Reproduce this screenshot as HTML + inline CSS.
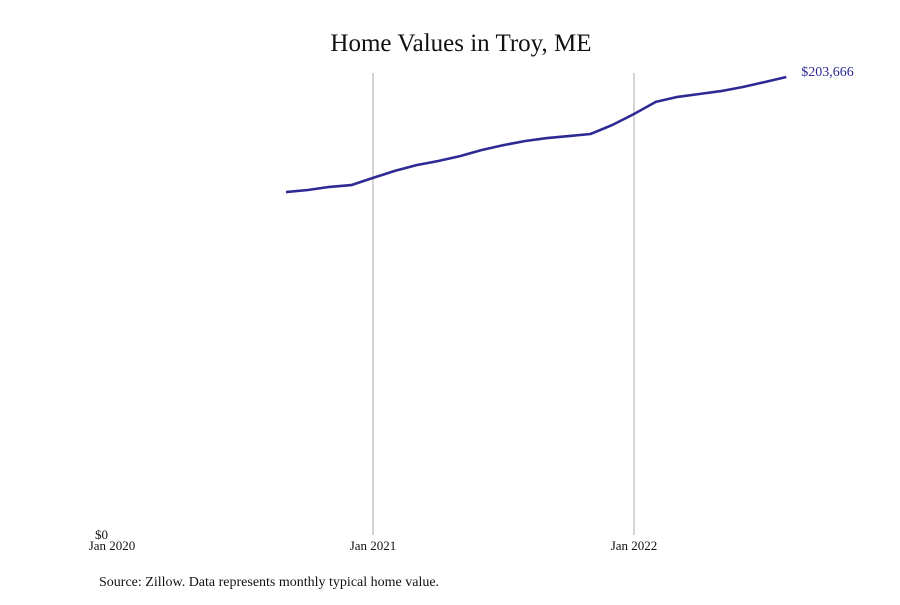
<!DOCTYPE html>
<html><head><meta charset="utf-8"><style>
body{margin:0;background:#fff;width:900px;height:600px;overflow:hidden;font-family:"Liberation Serif",serif}
</style></head><body>
<svg width="900" height="600" xmlns="http://www.w3.org/2000/svg">
<text x="461" y="51" text-anchor="middle" font-size="25" fill="#111">Home Values in Troy, ME</text>
<g id="grid"></g>
<g id="axis"></g>
<path id="line" fill="none" stroke="#2e2a94" stroke-width="2.6" stroke-linejoin="round"/>
<text id="endlabel" font-size="14" fill="#2e2a94"></text>
<text x="99" y="586" font-size="14" fill="#111">Source: Zillow. Data represents monthly typical home value.</text>
</svg>
<script>
const startMonth = 8; // months after Jan 2020 (Sep 2020)
const values = [152500,153400,154800,155600,158800,161900,164500,166300,168500,171200,173400,175200,176500,177400,178300,182300,187200,192600,194800,196100,197400,199200,201400,203666];
const xTickLabels = ["Jan 2020","Jan 2021","Jan 2022"];
const xTickMonths = [0,12,24];
const yTickLabels = ["$0"];
const yTickValues = [0];

const ns="http://www.w3.org/2000/svg";
const x = m => 112 + m*(634-112)/24;
const y = v => 535 - v*(535-77)/203666;

const grid=document.getElementById('grid');
const axis=document.getElementById('axis');
xTickMonths.forEach((m,i)=>{
  if(m>0){
    const l=document.createElementNS(ns,'line');
    
    
    l.setAttribute('x1',x(m));l.setAttribute('x2',x(m));
    l.setAttribute('y1',73);l.setAttribute('y2',535);
    l.setAttribute('stroke','#aaa');l.setAttribute('stroke-width','1');
    grid.appendChild(l);
  }
  const t=document.createElementNS(ns,'text');
  
  
  t.setAttribute('x',x(m));t.setAttribute('y',550);
  t.setAttribute('text-anchor','middle');t.setAttribute('font-size','13');t.setAttribute('fill','#111');
  t.textContent=xTickLabels[i];
  axis.appendChild(t);
});
yTickValues.forEach((v,i)=>{
  const t=document.createElementNS(ns,'text');
  
  
  t.setAttribute('x',108);t.setAttribute('y',y(v)+4);
  t.setAttribute('text-anchor','end');t.setAttribute('font-size','13');t.setAttribute('fill','#111');
  t.textContent=yTickLabels[i];
  axis.appendChild(t);
});
let d='';
values.forEach((v,i)=>{d+=(i?'L':'M')+x(startMonth+i).toFixed(1)+' '+y(v).toFixed(1);});
document.getElementById('line').setAttribute('d',d);
const last=values[values.length-1];
const el=document.getElementById('endlabel');
el.setAttribute('x',x(startMonth+values.length-1)+15);
el.setAttribute('y',y(last)-1);
el.textContent='$'+last.toLocaleString('en-US');
</script>
</body></html>
